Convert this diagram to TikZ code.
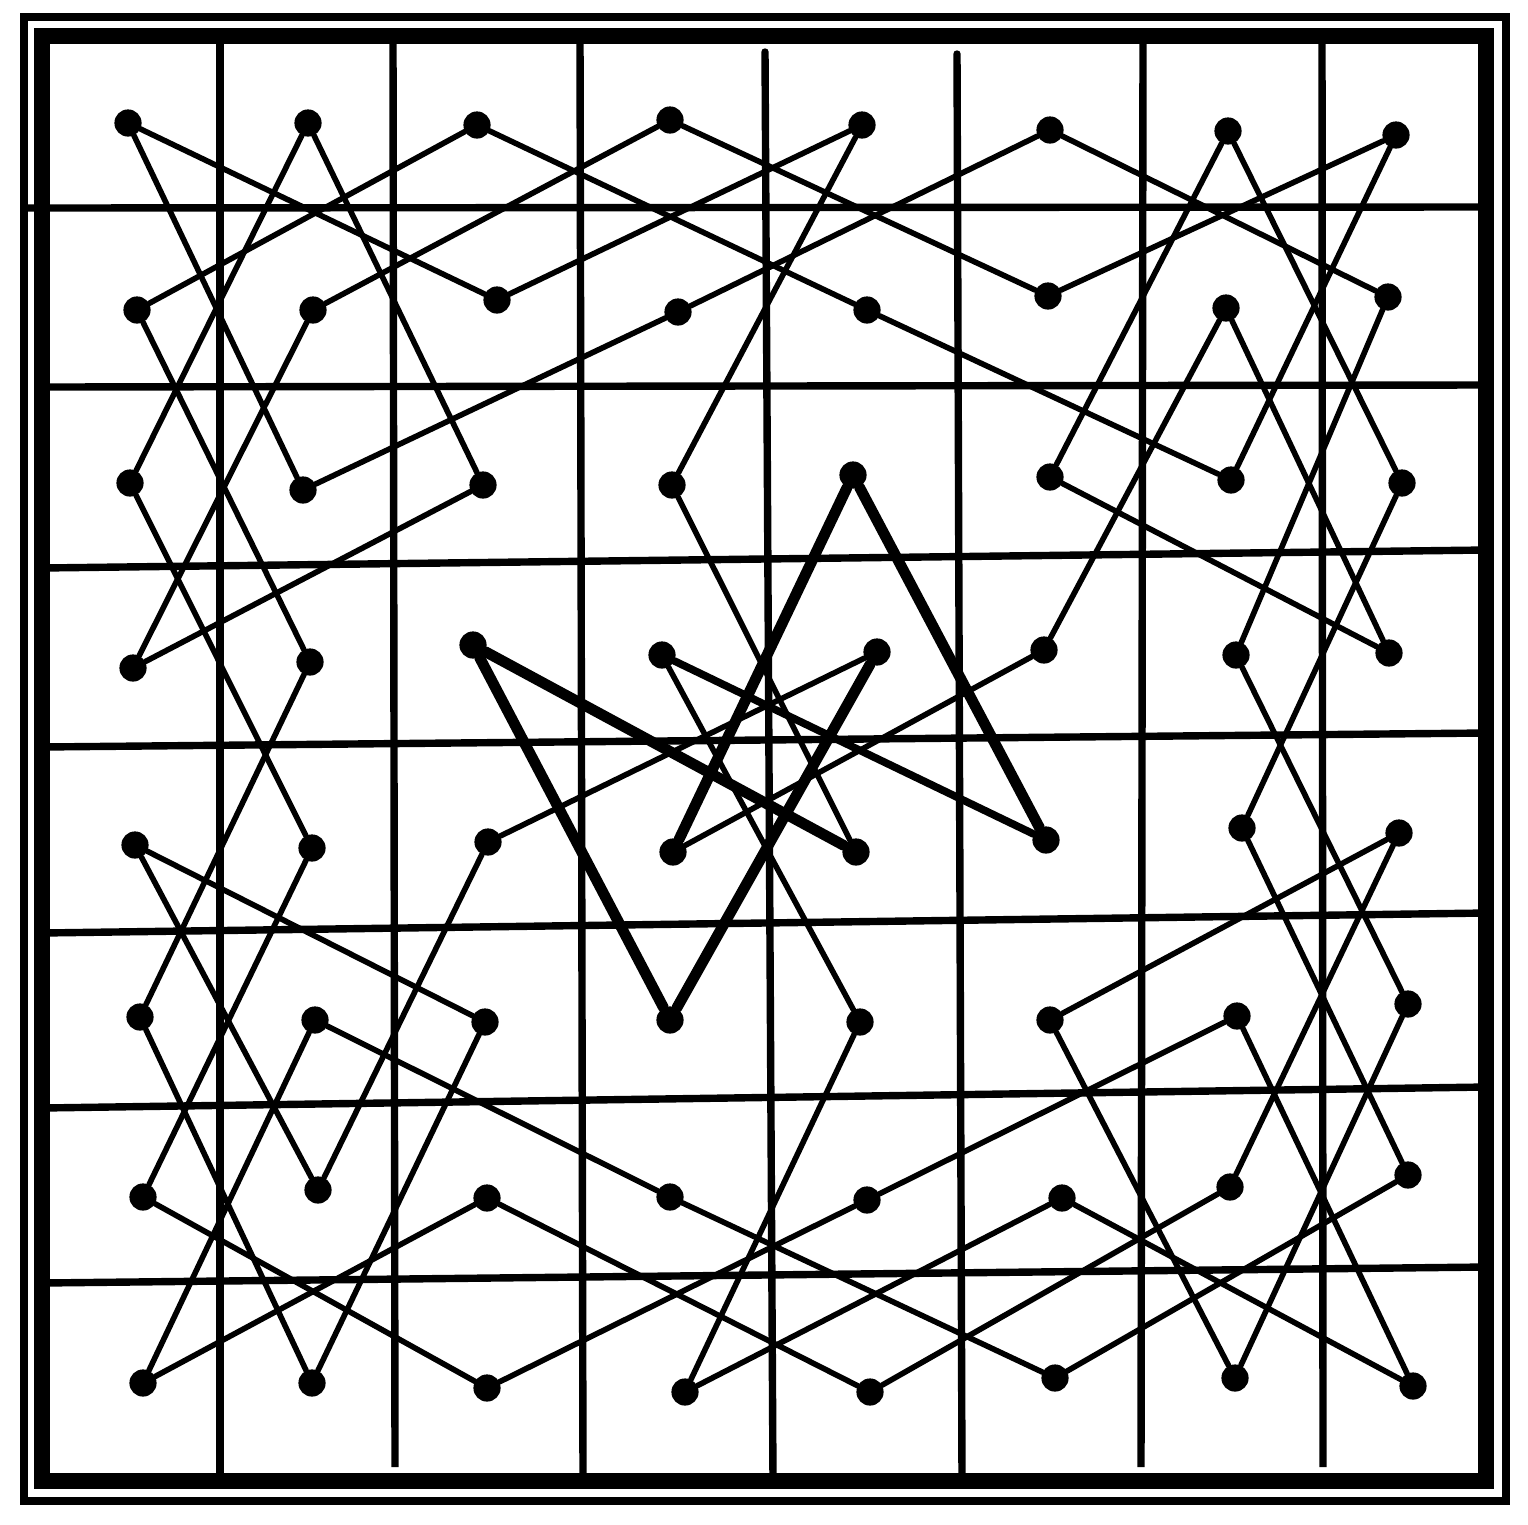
\documentclass[tikz,border=0pt]{standalone}
\begin{document}
\begin{tikzpicture}[x=0.25mm,y=-0.25mm,
  gridline/.style={line width=1.85mm},
  frameouter/.style={line width=1.9mm},
  frameinner/.style={line width=3.8mm},
  dot/.style={circle,fill=black,inner sep=0pt,minimum size=6.8mm},
  move/.style={line width=1.4mm,line cap=round,line join=round},
  heavy/.style={line width=2.7mm,line cap=round},
  medium/.style={line width=1.9mm,line cap=round}]
\useasboundingbox (0,0) rectangle (1528,1524);
\fill[white] (0,0) rectangle (1528,1524);
% frames
\draw[frameouter] (24,17) rectangle (1506,1501);
\draw[frameinner] (42,36) rectangle (1486,1481);
% vertical grid lines
\draw[gridline] (220,36) -- (220,1481);
\draw[gridline] (393,36) -- (395,1467);
\draw[gridline] (580,36) -- (583,1481);
\draw[gridline,line cap=round] (765,52) -- (773,1481);
\draw[gridline,line cap=round] (957,54) -- (962,1481);
\draw[gridline] (1143,36) -- (1141,1467);
\draw[gridline] (1322,36) -- (1323,1467);
% horizontal grid lines
\draw[gridline] (28,208) -- (1486,207);
\draw[gridline] (42,387) -- (1486,385);
\draw[gridline] (42,568) -- (1486,550);
\draw[gridline] (42,747) -- (1486,733);
\draw[gridline] (42,933) -- (1486,913);
\draw[gridline] (42,1108) -- (1486,1087);
\draw[gridline] (42,1283) -- (1486,1267);
% dots: n<col><row>
\node[dot] (n11) at (128,123) {};
\node[dot] (n21) at (308,123) {};
\node[dot] (n31) at (477,125) {};
\node[dot] (n41) at (670,120) {};
\node[dot] (n51) at (862,125) {};
\node[dot] (n61) at (1050,130) {};
\node[dot] (n71) at (1228,131) {};
\node[dot] (n81) at (1396,135) {};
\node[dot] (n12) at (137,310) {};
\node[dot] (n22) at (313,310) {};
\node[dot] (n32) at (497,300) {};
\node[dot] (n42) at (678,312) {};
\node[dot] (n52) at (867,310) {};
\node[dot] (n62) at (1048,296) {};
\node[dot] (n72) at (1226,308) {};
\node[dot] (n82) at (1388,297) {};
\node[dot] (n13) at (130,483) {};
\node[dot] (n23) at (303,490) {};
\node[dot] (n33) at (483,485) {};
\node[dot] (n43) at (672,485) {};
\node[dot] (n53) at (853,475) {};
\node[dot] (n63) at (1050,477) {};
\node[dot] (n73) at (1231,480) {};
\node[dot] (n83) at (1402,483) {};
\node[dot] (n14) at (133,668) {};
\node[dot] (n24) at (310,662) {};
\node[dot] (n34) at (473,645) {};
\node[dot] (n44) at (662,655) {};
\node[dot] (n54) at (877,652) {};
\node[dot] (n64) at (1044,650) {};
\node[dot] (n74) at (1236,655) {};
\node[dot] (n84) at (1389,653) {};
\node[dot] (n15) at (135,845) {};
\node[dot] (n25) at (312,848) {};
\node[dot] (n35) at (488,842) {};
\node[dot] (n45) at (673,852) {};
\node[dot] (n55) at (856,852) {};
\node[dot] (n65) at (1046,840) {};
\node[dot] (n75) at (1242,828) {};
\node[dot] (n85) at (1399,833) {};
\node[dot] (n16) at (140,1017) {};
\node[dot] (n26) at (315,1020) {};
\node[dot] (n36) at (485,1022) {};
\node[dot] (n46) at (670,1020) {};
\node[dot] (n56) at (860,1022) {};
\node[dot] (n66) at (1050,1020) {};
\node[dot] (n76) at (1237,1016) {};
\node[dot] (n86) at (1408,1004) {};
\node[dot] (n17) at (143,1197) {};
\node[dot] (n27) at (318,1190) {};
\node[dot] (n37) at (487,1198) {};
\node[dot] (n47) at (670,1197) {};
\node[dot] (n57) at (867,1200) {};
\node[dot] (n67) at (1062,1198) {};
\node[dot] (n77) at (1230,1187) {};
\node[dot] (n87) at (1408,1175) {};
\node[dot] (n18) at (143,1383) {};
\node[dot] (n28) at (312,1383) {};
\node[dot] (n38) at (487,1388) {};
\node[dot] (n48) at (685,1392) {};
\node[dot] (n58) at (870,1392) {};
\node[dot] (n68) at (1055,1378) {};
\node[dot] (n78) at (1235,1378) {};
\node[dot] (n88) at (1413,1386) {};
% knight moves
\foreach \a/\b in {n11/n32, n11/n23, n21/n13, n21/n33, n31/n12, n31/n52,
  n41/n22, n41/n62, n51/n32, n51/n43, n61/n42, n61/n82, n71/n63, n71/n83,
  n81/n62, n81/n73, n42/n23, n52/n73, n12/n24, n22/n14, n72/n64, n72/n84,
  n82/n74, n63/n84, n13/n25, n14/n33, n24/n16, n15/n36, n15/n27, n25/n17,
  n35/n27, n54/n35, n83/n75, n74/n86, n75/n87, n85/n66, n85/n77, n16/n28,
  n26/n18, n26/n47, n36/n28, n17/n38, n37/n18, n37/n58, n47/n68, n57/n38,
  n57/n76, n67/n48, n48/n56, n58/n77, n66/n78, n76/n88, n67/n88, n87/n68,
  n78/n86, n44/n56, n45/n64, n43/n55}
  \draw[move] (\a) -- (\b);
\draw[medium] (n65) -- (n44);
\foreach \a/\b in {n34/n46, n34/n55, n46/n54, n53/n45, n53/n65}
  \draw[heavy] (\a) -- (\b);
\end{tikzpicture}
\end{document}
